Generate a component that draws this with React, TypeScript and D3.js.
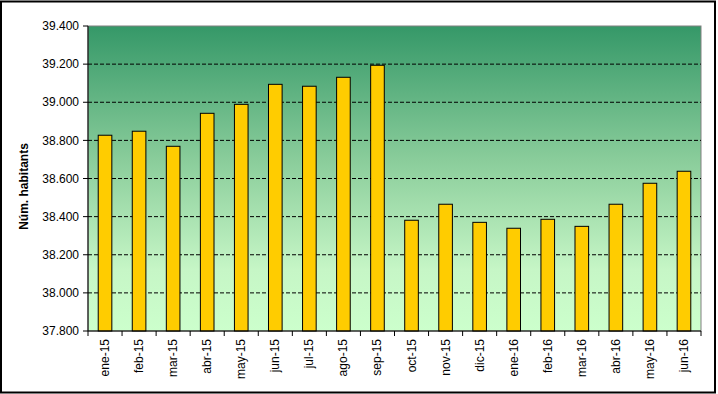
import React from 'react';
import * as d3 from 'd3';

// meses
const months = [
  'ene-15', 'feb-15', 'mar-15', 'abr-15', 'may-15', 'jun-15', 'jul-15', 'ago-15', 'sep-15',
  'oct-15', 'nov-15', 'dic-15', 'ene-16', 'feb-16', 'mar-16', 'abr-16', 'may-16', 'jun-16',
];
// habitantes por mes
const habitants = [
  38827, 38848, 38769, 38942, 38989, 39094, 39084, 39131, 39194,
  38381, 38465, 38370, 38339, 38386, 38349, 38465, 38575, 38638,
];
const yTicks = [37800, 38000, 38200, 38400, 38600, 38800, 39000, 39200, 39400];

const W = 718;
const H = 394;
const margin = { top: 26, right: 17, bottom: 63, left: 88 };

const fmt = (v: number) => d3.format(',')(v).replace(/,/g, '.');

export default function App() {
  const x = d3.scaleBand<string>()
    .domain(months)
    .range([margin.left, W - margin.right])
    .paddingInner(0.6)
    .paddingOuter(0.3);
  const y = d3.scaleLinear()
    .domain([37800, 39400])
    .range([H - margin.bottom, margin.top]);

  const x0 = margin.left;
  const x1 = W - margin.right;
  const y0 = H - margin.bottom;
  const y1 = margin.top;
  const step = (x1 - x0) / months.length;
  const font = 'Arial, "Liberation Sans", sans-serif';

  return (
    <svg width={W} height={H} style={{ position: 'fixed', left: 0, top: 0, background: '#fff' }}>
      <defs>
        <linearGradient id="bg" x1="0" y1="0" x2="0" y2="1">
          <stop offset="0" stopColor="#359868" />
          <stop offset="0.45" stopColor="#8cce9c" />
          <stop offset="0.8" stopColor="#c6f6c6" />
          <stop offset="1" stopColor="#ccffcc" />
        </linearGradient>
      </defs>
      <rect x={1} y={1.5} width={714} height={391} fill="#fff" stroke="#000" strokeWidth={2} />

      {/* área del gráfico */}
      <rect x={x0} y={y1} width={x1 - x0} height={y0 - y1} fill="url(#bg)" stroke="#808080" strokeWidth={1} />

      {/* líneas de división */}
      {yTicks.slice(1, -1).map(t => (
        <line key={t} x1={x0} x2={x1} y1={y(t)} y2={y(t)} stroke="#000" strokeDasharray="4 2" strokeWidth={1} />
      ))}

      {/* barras */}
      {habitants.map((v, i) => (
        <rect key={months[i]} x={x(months[i])} y={y(v)} width={x.bandwidth()} height={y0 - y(v)}
          fill="#ffcc00" stroke="#000" strokeWidth={1} />
      ))}

      {/* eje Y */}
      <line x1={x0} x2={x0} y1={y1} y2={y0} stroke="#000" />
      {yTicks.map(t => (
        <g key={t}>
          <line x1={x0 - 5} x2={x0} y1={y(t)} y2={y(t)} stroke="#000" />
          <text x={x0 - 9} y={y(t)} dy="0.35em" textAnchor="end" fontFamily={font} fontSize={12} fill="#000">
            {fmt(t)}
          </text>
        </g>
      ))}
      <text transform={`translate(28,${(y0 + y1) / 2 + 8}) rotate(-90)`} textAnchor="middle"
        fontFamily={font} fontSize={12} fontWeight="bold" fill="#000">
        Núm. habitants
      </text>

      {/* eje X */}
      <line x1={x0} x2={x1} y1={y0} y2={y0} stroke="#000" />
      {d3.range(months.length + 1).map(i => (
        <line key={i} x1={x0 + i * step} x2={x0 + i * step} y1={y0} y2={y0 + 5} stroke="#000" />
      ))}
      {months.map(m => (
        <text key={m} transform={`translate(${(x(m) ?? 0) + x.bandwidth() / 2 + 4},${y0 + 8}) rotate(-90)`}
          textAnchor="end" fontFamily={font} fontSize={12} fill="#000">
          {m}
        </text>
      ))}
    </svg>
  );
}
